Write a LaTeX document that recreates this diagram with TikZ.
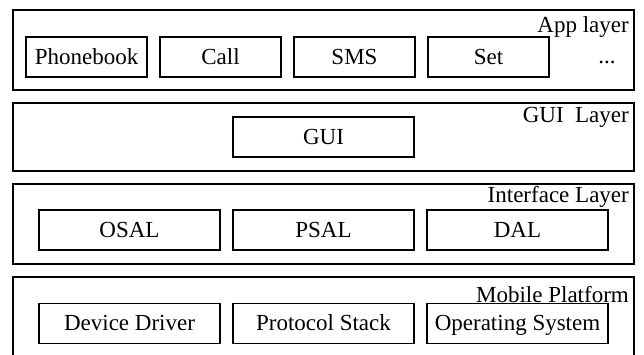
\documentclass[tikz,border=0pt]{standalone}
\usepackage{fontspec}
\setmainfont{Liberation Serif}
\usetikzlibrary{positioning}

\begin{document}
\begin{tikzpicture}[
  x=1pt, y=-1pt,
  node distance=13pt,
  font=\fontsize{23}{27}\selectfont,
  layer/.style={draw, line width=1.3pt, minimum width=621pt, inner sep=0pt, outer sep=0pt},
  unit/.style={draw, line width=1.3pt, minimum height=40pt, text height=17pt, text depth=3pt, inner sep=0pt, outer sep=0pt},
  appunit/.style={unit, minimum width=121pt},
  modunit/.style={unit, minimum width=181pt},
  tag/.style={anchor=base east, inner sep=0pt}
]
\useasboundingbox (0,0) rectangle (644,354);
\clip (0,0) rectangle (644,354);

% layers
\node[layer, minimum height=80pt] (app) at (323.5,50) {};
\node[layer, minimum height=68pt] (gui) at (323.5,137) {};
\node[layer, minimum height=80pt] (iface) at (323.5,224) {};
\node[layer, minimum height=100pt] (mobile) at (323.5,327) {};

% layer names
\node[tag] (applbl) at (629,32) {App layer};
\node[tag] (guilbl) at (629,122) {GUI~~Layer};
\node[tag] (ifacelbl) at (629,202) {Interface Layer};
\node[tag] (mobilelbl) at (629,302) {Mobile Platform};

% app layer
\node[appunit] (phonebook) at (86.5,57) {Phonebook};
\node[appunit, right=of phonebook] (call) {Call};
\node[appunit, right=of call] (sms) {SMS};
\node[appunit, right=of sms] (set) {Set};
\node[anchor=base, inner sep=0pt] (more) at (607,63) {...};

% gui layer
\node[modunit] (guibox) at (323.5,137) {GUI};

% interface layer
\node[modunit] (psal) at (323.5,230) {PSAL};
\node[modunit, left=of psal] (osal) {OSAL};
\node[modunit, right=of psal] (dal) {DAL};

% mobile platform
\node[modunit] (stack) at (323.5,323.5) {Protocol Stack};
\node[modunit, left=of stack] (driver) {Device Driver};
\node[modunit, right=of stack] (os) {Operating System};
\end{tikzpicture}
\end{document}
